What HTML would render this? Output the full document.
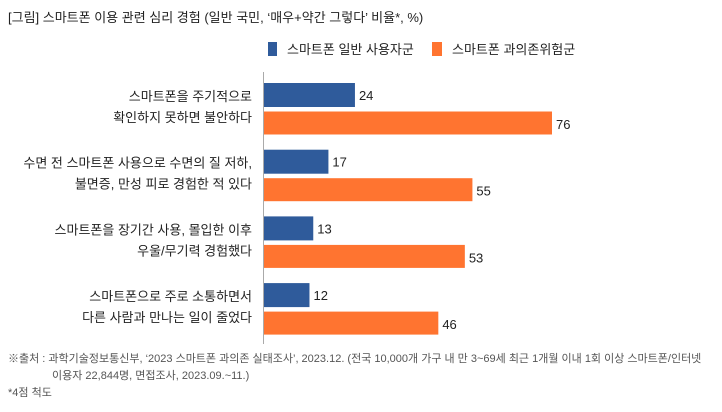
<!DOCTYPE html>
<html><head><meta charset="utf-8"><style>
body{margin:0;background:#fff;}
svg text{font-family:"Liberation Sans","Noto Sans CJK KR",sans-serif;}
</style></head><body>
<svg width="722" height="407" xmlns="http://www.w3.org/2000/svg">
<text x="8" y="22" font-size="13" fill="#222">[그림] 스마트폰 이용 관련 심리 경험 (일반 국민, ‘매우+약간 그렇다’ 비율*, %)</text>
<g>
<rect x="268" y="42" width="9" height="14" fill="#2f5b9b"/>
<text x="287" y="54" font-size="13" fill="#222">스마트폰 일반 사용자군</text>
<rect x="432" y="42" width="10" height="14" fill="#ff7430"/>
<text x="452" y="54" font-size="13" fill="#222">스마트폰 과의존위험군</text>
</g>
<line x1="263.5" y1="72" x2="263.5" y2="344" stroke="#aaa" stroke-width="1"/>
<g id="bars"></g>
<g font-size="11" fill="#555">
<text x="8" y="362">※출처 : 과학기술정보통신부, ‘2023 스마트폰 과의존 실태조사’, 2023.12. (전국 10,000개 가구 내 만 3~69세 최근 1개월 이내 1회 이상 스마트폰/인터넷</text>
<text x="52" y="379">이용자 22,844명, 면접조사, 2023.09.~11.)</text>
<text x="8" y="396">*4점 척도</text>
</g>
</svg>
<script>
const categories=[["스마트폰을 주기적으로","확인하지 못하면 불안하다"],["수면 전 스마트폰 사용으로 수면의 질 저하,","불면증, 만성 피로 경험한 적 있다"],["스마트폰을 장기간 사용, 몰입한 이후","우울/무기력 경험했다"],["스마트폰으로 주로 소통하면서","다른 사람과 만나는 일이 줄었다"]];
const generalValues=[24,17,13,12];
const riskValues=[76,55,53,46];
const NS="http://www.w3.org/2000/svg";
const g=document.getElementById('bars');
const x0=264, scale=(552-264)/76;
const xAxis=v=>x0+v*scale;
const yBand=i=>83+i*66.7;
function mk(tag,attrs){const e=document.createElementNS(NS,tag);for(const k in attrs)e.setAttribute(k,attrs[k]);g.appendChild(e);return e;}
categories.forEach((c,i)=>{
  const y=yBand(i);
  const t1=mk('text',{x:252,y:y+18,'font-size':13,fill:'#222','text-anchor':'end'});t1.textContent=c[0];
  
  
  const t2=mk('text',{x:252,y:y+39,'font-size':13,fill:'#222','text-anchor':'end'});t2.textContent=c[1];
  
  
  const b1=mk('rect',{x:x0,y:y,width:xAxis(generalValues[i])-x0,height:24,fill:'#2f5b9b'});
  
  
  const v1=mk('text',{x:xAxis(generalValues[i])+4,y:y+17,'font-size':13,fill:'#222'});v1.textContent=generalValues[i];
  
  
  const b2=mk('rect',{x:x0,y:y+28.5,width:xAxis(riskValues[i])-x0,height:23,fill:'#ff7430'});
  
  
  const v2=mk('text',{x:xAxis(riskValues[i])+4,y:y+46,'font-size':13,fill:'#222'});v2.textContent=riskValues[i];
  
  
});
</script>
</body></html>
